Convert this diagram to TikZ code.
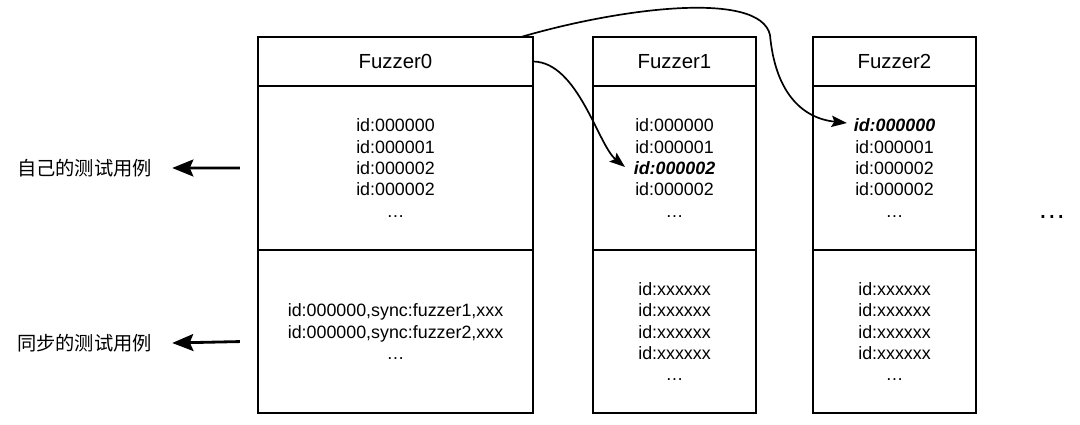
\documentclass[tikz,border=0pt]{standalone}
\usepackage{fontspec}
\setmainfont{Liberation Sans}
\newfontfamily\cjk{Noto Sans CJK SC}
\usetikzlibrary{arrows.meta, positioning}

\begin{document}
\begin{tikzpicture}[
            x=0.025cm, y=-0.025cm,
            node distance=0pt,
            box/.style={draw, line width=1.6pt, outer sep=0pt, align=center, font=\fontsize{12.7}{15.2}\selectfont},
            head/.style={box, minimum height=1.225cm, font=\fontsize{14.5}{17}\selectfont},
            wide/.style={minimum width=6.875cm},
            slim/.style={minimum width=4.075cm},
            arrow/.style={-{Stealth[length=11pt, width=8pt, inset=2pt]}, line width=1.2pt, black},
            lead/.style={-{Stealth[length=15pt, width=12pt, inset=2.5pt]}, line width=2pt, black},
            tag/.style={inner sep=0pt, font=\cjk\fontsize{13.7}{16}\selectfont}
        ]
        \useasboundingbox (0,0) rectangle (1080,425);

        % Fuzzer0
        \node (head0) at (395.5,61.5) [head, wide] {Fuzzer0};
        \node (own0) [box, wide, minimum height=4.1cm, below=of head0] {id:000000\\id:000001\\id:000002\\id:000002\\…};
        \node (sync0) [box, wide, minimum height=4.075cm, below=of own0] {id:000000,sync:fuzzer1,xxx\\id:000000,sync:fuzzer2,xxx\\…};

        % Fuzzer1
        \node (head1) at (674.5,61.5) [head, slim] {Fuzzer1};
        \node (own1) [box, slim, minimum height=4.1cm, below=of head1] {id:000000\\id:000001\\\textbf{\textit{id:000002}}\\id:000002\\…};
        \node (sync1) [box, slim, minimum height=4.075cm, below=of own1] {id:xxxxxx\\id:xxxxxx\\id:xxxxxx\\id:xxxxxx\\…};

        % Fuzzer2
        \node (head2) at (894.5,61.5) [head, slim] {Fuzzer2};
        \node (own2) [box, slim, minimum height=4.1cm, below=of head2] {\textbf{\textit{id:000000}}\\id:000001\\id:000002\\id:000002\\…};
        \node (sync2) [box, slim, minimum height=4.075cm, below=of own2] {id:xxxxxx\\id:xxxxxx\\id:xxxxxx\\id:xxxxxx\\…};

        \node (more) at (1052,217) [font=\fontsize{20}{24}\selectfont] {…};

        % sync arrows
        \coordinate (hit1) at (625,167);
        \coordinate (hit2) at (847,123);
        \draw [arrow] (head0.east) .. controls (578,62) and (598,145) .. (hit1);
        \draw [arrow] ([xshift=-0.3cm]head0.north east) .. controls (620,8) and (760,-10) .. (770,35)
            .. controls (775,90) and (800,118) .. (hit2);

        % legend on the left
        \node (ownlbl) at (84.5,168) [tag] {自己的测试用例};
        \node (synclbl) at (84.5,343) [tag] {同步的测试用例};
        \draw [lead] ([xshift=-0.45cm]own0.west) -- ([xshift=0.5cm]ownlbl.east);
        \draw [lead] ([xshift=-0.45cm, yshift=-0.25cm]sync0.west) -- ([xshift=0.5cm]synclbl.east);
\end{tikzpicture}
\end{document}
